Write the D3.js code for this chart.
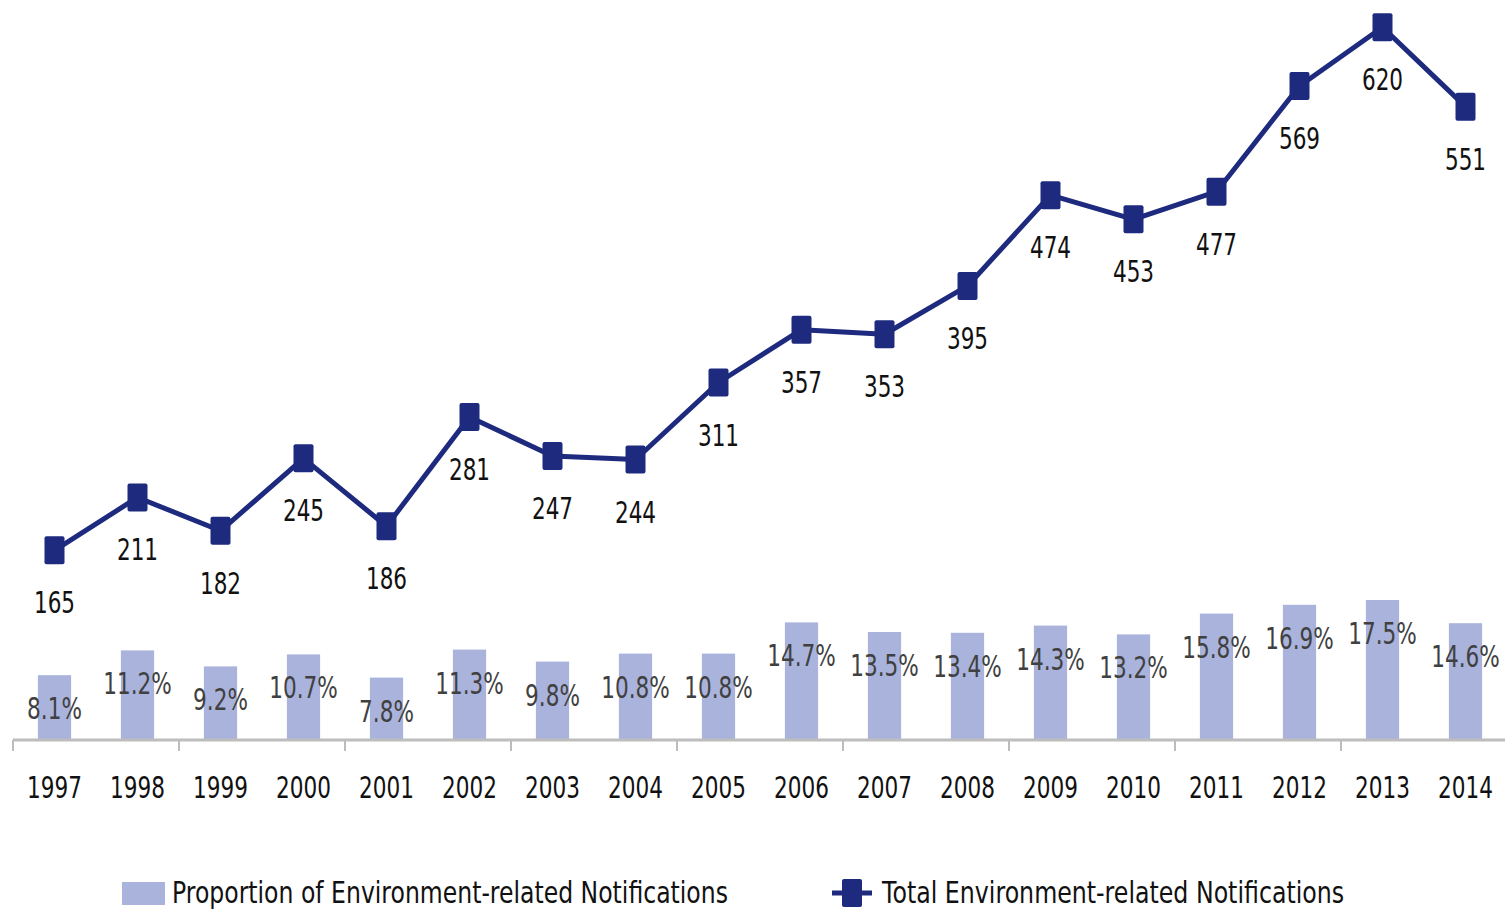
<!DOCTYPE html>
<html>
<head>
<meta charset="utf-8">
<script src="https://cdn.jsdelivr.net/npm/d3@7"></script>
<style>
  body { margin: 0; background: #fff; }
  svg text { font-family: "DejaVu Sans", Verdana, sans-serif; }
</style>
</head>
<body>
<div id="chart"></div>
<script>
var years = ["1997","1998","1999","2000","2001","2002","2003","2004","2005","2006","2007","2008","2009","2010","2011","2012","2013","2014"];
var totals = [165, 211, 182, 245, 186, 281, 247, 244, 311, 357, 353, 395, 474, 453, 477, 569, 620, 551];
var shares = [8.1, 11.2, 9.2, 10.7, 7.8, 11.3, 9.8, 10.8, 10.8, 14.7, 13.5, 13.4, 14.3, 13.2, 15.8, 16.9, 17.5, 14.6];
var legendLabels = ["Proportion of Environment-related Notifications", "Total Environment-related Notifications"];

var width = 1505, height = 909;
var squeeze = 0.72; // the source picture is narrowed horizontally
var barColor = "#a9b3dc", lineColor = "#1d2a7e";

var svg = d3.select("#chart").append("svg")
    .attr("width", width)
    .attr("height", height);

var x = d3.scaleBand()
    .domain(years)
    .range([13, 13 + 83 * years.length])
    .paddingInner(0.6)
    .paddingOuter(0.3);

var yBar = d3.scaleLinear().domain([0, 20]).range([740, 580]);
var yLine = d3.scaleLinear().domain([0, 700]).range([740, 740 - 700 * 1.1495]);

function cx(d) { return x(d) + x.bandwidth() / 2; }

// narrow text, like the stretched original
function label(g, tx, ty, txt, size, color, anchor, sq) {
  return g.append("text")
    .attr("transform", "translate(" + tx + "," + ty + ") scale(" + (sq || squeeze) + ",1)")
    .attr("text-anchor", anchor || "middle")
    .attr("font-size", size)
    .attr("fill", color)
    .text(txt);
}

// bars
svg.append("g").selectAll("rect")
  .data(years)
  .enter().append("rect")
    .attr("x", function(d) { return x(d); })
    .attr("width", x.bandwidth())
    .attr("y", function(d, i) { return yBar(shares[i]); })
    .attr("height", function(d, i) { return yBar(0) - yBar(shares[i]); })
    .attr("fill", barColor);

var barLabels = svg.append("g");
years.forEach(function(d, i) {
  label(barLabels, cx(d), yBar(shares[i]) + 44, shares[i].toFixed(1) + "%", 30, "#404040");
});

// x axis
var step = x.step();
svg.append("line")
    .attr("x1", 13).attr("x2", width)
    .attr("y1", 740).attr("y2", 740)
    .attr("stroke", "#bdbdbd").attr("stroke-width", 3);

svg.append("g").selectAll("line")
  .data(years.filter(function(d, i) { return i % 2 == 0; }))
  .enter().append("line")
    .attr("x1", function(d) { return x(d) - x.paddingOuter() * step; })
    .attr("x2", function(d) { return x(d) - x.paddingOuter() * step; })
    .attr("y1", 740).attr("y2", 751)
    .attr("stroke", "#bdbdbd").attr("stroke-width", 2);

var axisLabels = svg.append("g");
years.forEach(function(d) {
  label(axisLabels, cx(d), 798, d, 30, "#111");
});

// line
var line = d3.line()
    .x(function(d, i) { return cx(years[i]); })
    .y(function(d) { return yLine(d); });

svg.append("path")
    .datum(totals)
    .attr("d", line)
    .attr("fill", "none")
    .attr("stroke", lineColor)
    .attr("stroke-width", 5)
    .attr("stroke-linejoin", "round");

svg.append("g").selectAll("rect")
  .data(totals)
  .enter().append("rect")
    .attr("x", function(d, i) { return cx(years[i]) - 10; })
    .attr("y", function(d) { return yLine(d) - 14; })
    .attr("width", 20).attr("height", 28)
    .attr("rx", 2)
    .attr("fill", lineColor);

var valueLabels = svg.append("g");
totals.forEach(function(v, i) {
  label(valueLabels, cx(years[i]), yLine(v) + 63, v, 30, "#111");
});

// legend
var legend = svg.append("g");
legend.append("rect")
    .attr("x", 122).attr("y", 882)
    .attr("width", 43).attr("height", 23)
    .attr("fill", barColor);
label(legend, 172, 903, legendLabels[0], 30, "#111", "start", 0.785);

legend.append("line")
    .attr("x1", 832).attr("x2", 872)
    .attr("y1", 893).attr("y2", 893)
    .attr("stroke", lineColor).attr("stroke-width", 5);
legend.append("rect")
    .attr("x", 842).attr("y", 879)
    .attr("width", 20).attr("height", 28)
    .attr("rx", 2)
    .attr("fill", lineColor);
label(legend, 882, 903, legendLabels[1], 30, "#111", "start", 0.79);
</script>
</body>
</html>
